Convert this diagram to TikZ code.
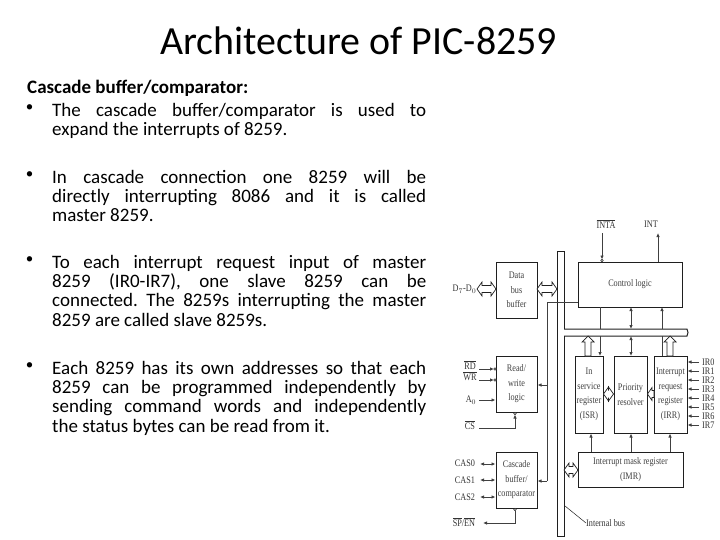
\documentclass[tikz,border=0pt]{standalone}
\usepackage{fontspec}
\setmainfont{Carlito}
\newfontfamily\dgm[FakeStretch=0.82]{Liberation Serif}
\usetikzlibrary{arrows.meta}
\frenchspacing
\AtBeginDocument{\lineskiplimit=-20pt\relax}
\definecolor{ink}{gray}{0.12}
\definecolor{wire}{gray}{0.25}
\newcommand{\hdbl}[3]{\draw[fatarrow] (#1,#3) -- ++(5,-7) -- ++(0,3.5) -- (#2-5,#3-3.5) -- ++(0,-3.5) -- (#2,#3) -- (#2-5,#3+7) -- ++(0,-3.5) -- (#1+5,#3+3.5) -- ++(0,3.5) -- cycle;}
\newcommand{\vup}[3]{\draw[fatarrow] (#1,#3) -- ++(-6,6) -- ++(3,0) -- (#1-3,#2) -- (#1+3,#2) -- (#1+3,#3+6) -- ++(3,0) -- cycle;}
\tikzset{
  x=1pt,y=-1pt,
  block/.style={draw=ink,line width=1pt,fill=white,inner sep=0pt,align=center,font=\dgm\fontsize{10}{14.5}\selectfont,text=black!75},
  lab/.style={inner sep=0pt,align=center,font=\dgm\fontsize{10}{10}\selectfont,text=black!80},
  wireline/.style={draw=wire,line width=0.8pt},
  sig/.style={wireline,-{Latex[length=4pt,width=3.5pt]}},
  sigboth/.style={wireline,{Latex[length=4pt,width=3.5pt]}-{Latex[length=4pt,width=3.5pt]}},
  fatarrow/.style={draw=ink,line width=0.7pt,fill=white,line join=miter},
  bubble/.style={circle,draw=ink,fill=white,line width=0.5pt,inner sep=0pt,minimum size=2.5pt},
  para/.style={anchor=north west,inner sep=0pt,text width=374pt,align=justify,font=\fontsize{19}{19.3}\selectfont},
  bull/.style={anchor=center,inner sep=0pt,font=\fontsize{15}{15}\selectfont},
}
\begin{document}
\begin{tikzpicture}
\useasboundingbox (0,0) rectangle (720,540);
\node[inner sep=0pt,font=\fontsize{39.9}{44}\selectfont] (title) at (358.5,41) {Architecture of PIC-8259};
\node[anchor=north west,inner sep=0pt,font=\fontsize{19}{19.3}\selectfont\bfseries] (head) at (27,80) {Cascade buffer/comparator:};
\node[bull] (b1) at (29.5,108.5) {•};
\node[para] (p1) at (52,103) {The cascade buffer/comparator is used to\linebreak expand the interrupts of 8259.};
\node[bull] (b2) at (29.5,175.5) {•};
\node[para] (p2) at (52,170) {In cascade connection one 8259 will be\linebreak directly interrupting 8086 and it is called\linebreak master 8259.};
\node[bull] (b3) at (29.5,260.5) {•};
\node[para] (p3) at (52,255) {To each interrupt request input of master\linebreak 8259 (IR0-IR7), one slave 8259 can be\linebreak connected. The 8259s interrupting the master\linebreak 8259 are called slave 8259s.};
\node[bull] (b4) at (29.5,366.5) {•};
\node[para] (p4) at (52,361) {Each 8259 has its own addresses so that each\linebreak 8259 can be programmed independently by\linebreak sending command words and independently\linebreak the status bytes can be read from it.};
% internal bus
\draw[ink,line width=1pt] (564,329) -- (564,251) -- (557,251) -- (557,536) -- (564,536) -- (564,336);
\draw[ink,line width=1pt] (564,329) -- (687,329) -- (688,332.5) -- (687,336) -- (564,336);
% blocks
\node[block,minimum width=41pt,minimum height=56pt] (data) at (516.5,290) {Data\\bus\\buffer};
\node[block,minimum width=104pt,minimum height=45pt] (ctrl) at (630,284.5) {Control logic};
\node[block,minimum width=41pt,minimum height=56pt] (rw) at (516.5,384) {Read/\\write\\logic};
\node[block,minimum width=41pt,minimum height=56pt] (cas) at (516.5,480) {Cascade\\buffer/\\comparator};
\node[block,minimum width=28pt,minimum height=77pt] (isr) at (589,394.5) {In\\service\\register\\(ISR)};
\node[block,minimum width=33pt,minimum height=77pt] (prio) at (630.5,394.5) {Priority\\resolver};
\node[block,minimum width=33pt,minimum height=77pt] (irr) at (670.5,394.5) {Interrupt\\request\\register\\(IRR)};
\node[block,minimum width=105pt,minimum height=35pt] (imr) at (630.5,469.5) {Interrupt mask register\\(IMR)};
% fat arrows
\hdbl{477}{496}{289}
\hdbl{537}{557}{289}
\hdbl{603.5}{613.5}{394}
\draw[fatarrow] (647.5,394) -- (652,387.5) -- (652,390.5) -- (654,390.5) -- (654,397.5) -- (652,397.5) -- (652,400.5) -- cycle;
\hdbl{564}{578}{470}
\vup{588}{356}{336}
\vup{670}{356}{336}
% labels
\node[lab] (inta) at (606,224) {$\overline{\mbox{\dgm INTA}}$};
\node[lab] (int) at (651,224) {INT};
\node[lab] (d) at (464.5,289) {D$_7$-D$_0$};
\node[lab] (rd) at (470,365) {$\overline{\mbox{\dgm RD}}$};
\node[lab] (wr) at (470,376) {$\overline{\mbox{\dgm WR}}$};
\node[lab] (a0) at (471,400) {A$_0$};
\node[lab] (cs) at (470,425) {$\overline{\mbox{\dgm CS}}$};
\node[lab] (cas0) at (465,463) {CAS0};
\node[lab] (cas1) at (465,480) {CAS1};
\node[lab] (cas2) at (465,497) {CAS2};
\node[lab] (sp) at (464,522) {$\overline{\mbox{\dgm SP}}$/$\overline{\mbox{\dgm EN}}$};
\node[lab,anchor=west] (ibus) at (586,523) {Internal bus};
\foreach \n/\y in {0/362,1/371,2/380,3/389,4/398,5/407,6/416,7/425}{
  \node[lab,anchor=west] (ir\n) at (702,\y) {IR\n};
  \draw[sig] (ir\n.west) ++(-3,0) -- (irr.east |- ir\n.west);
}
% control connectors
\coordinate (intaE) at (602,259.5);
\draw[sig] (602,233) -- (intaE);
\node[bubble] (intaB) at (602,260.5) {};
\coordinate (intT) at (658,233);
\draw[sig] (658,262) -- (intT);
\coordinate (hbT) at (600,329);
\coordinate (hbB) at (600,336);
\draw[wireline] (600,307) -- (hbT);
\draw[sig] (hbB) -- (600,356);
\draw[sigboth] (631,307) -- (631,329);
\draw[sigboth] (631,336) -- (631,356);
\draw[sig] (662,329) -- (662,307);
\draw[wireline] (662,336) -- (662,356);
% secondary bus
\coordinate (busTop) at (547,302);
\draw[wireline] (ctrl.west |- busTop) -- (busTop) -- (547,481);
\draw[sig] (547,385) -- (rw.east |- 0,385);
\draw[sig] (547,481) -- (cas.east |- 0,481);
% read/write inputs
\draw[sig] (479,369) -- (494,369);
\node[bubble] at (495,369) {};
\draw[sig] (479,380) -- (494,380);
\node[bubble] at (495,380) {};
\draw[sig] (479,400) -- (rw.west |- 0,400);
\coordinate (csC) at (515,428);
\draw[wireline,-{Latex[length=4pt,width=3.5pt]}] (479,428) -- (csC) -- (515,414.5);
\node[bubble] at (515,413.5) {};
% cascade
\draw[sigboth] (480,464) -- (cas.west |- 0,464);
\draw[sigboth] (480,480) -- (cas.west |- 0,480);
\draw[sigboth] (480,497) -- (cas.west |- 0,497);
\node[bubble] (spB) at (515,509.5) {};
\draw[wireline,-{Latex[length=4pt,width=3.5pt]}] (spB.south) -- (515,523) -- (483,523);
% fan-in from IMR
\draw[sig] (591,452) -- (591,433.5);
\draw[sig] (631,452) -- (631,433.5);
\draw[sig] (670,452) -- (670,433.5);
% internal bus leader
\draw[ink,line width=0.5pt] (565,506) -- (ibus.west);
\end{tikzpicture}
\end{document}
